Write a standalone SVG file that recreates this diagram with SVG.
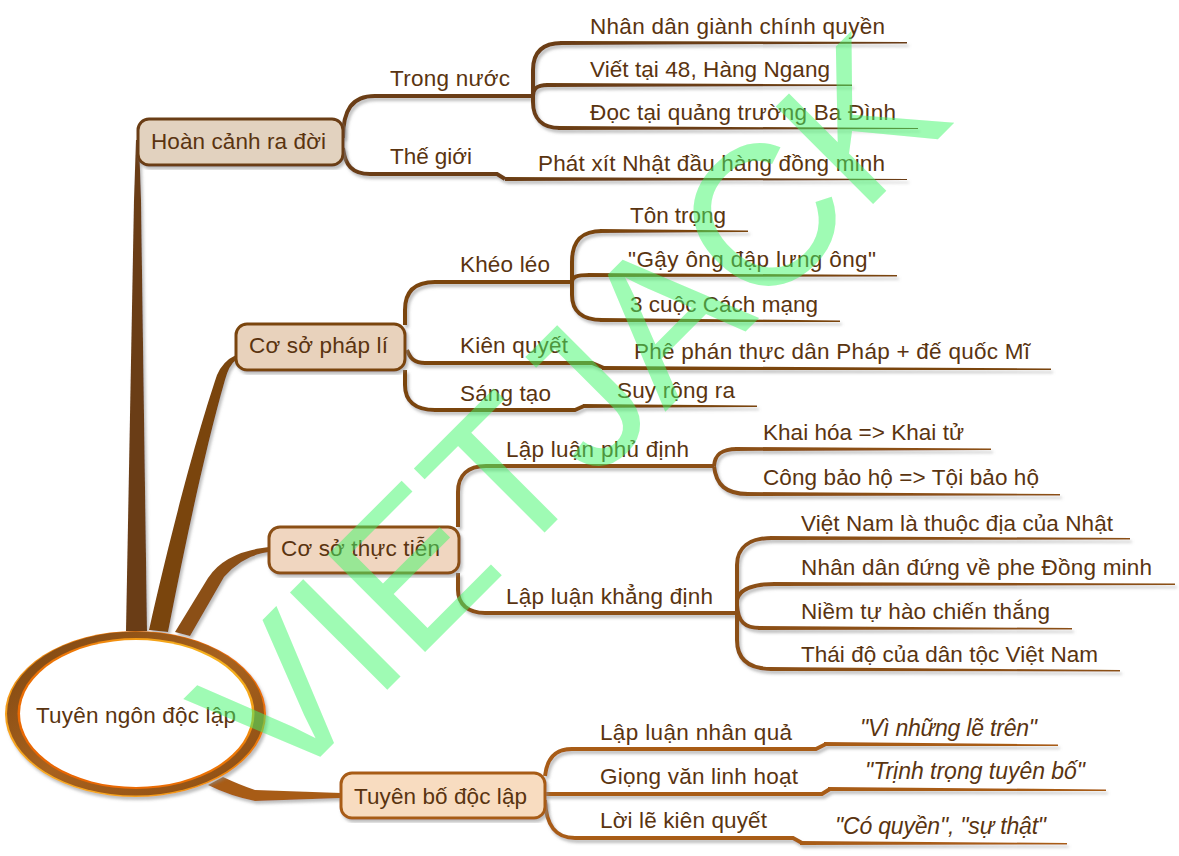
<svg xmlns="http://www.w3.org/2000/svg" width="1179" height="856" viewBox="0 0 1179 856">
<defs>
<style>
text{font-family:"Liberation Sans",Arial,sans-serif;font-size:22.5px;fill:#5a3410}
text.q{font-style:italic;font-size:23px}
.wm{font-size:200px;fill:#40f86a;fill-opacity:.5}
.c1{fill:none;stroke:#6b3e12;stroke-width:4}
.c2{fill:none;stroke:#7a4511;stroke-width:4}
.c3{fill:none;stroke:#8b4f15;stroke-width:4}
.c4{fill:none;stroke:#a85c17;stroke-width:4}
.t1{fill:#6b3e12}.t2{fill:#7a4511}.t3{fill:#8b4f15}.t4{fill:#a85c17}
.box{stroke-width:3;filter:url(#sh)}
</style>
<filter id="sh" x="-10%" y="-10%" width="120%" height="120%"><feDropShadow dx="2" dy="3" stdDeviation="1.5" flood-color="#888" flood-opacity=".55"/></filter>
<linearGradient id="ring" x1="0" y1="0" x2="1" y2="1"><stop offset="0" stop-color="#7a4410"/><stop offset=".5" stop-color="#a8621e"/><stop offset="1" stop-color="#8a4c12"/></linearGradient>
<linearGradient id="gold" x1="1" y1="0" x2="0" y2="1"><stop offset="0" stop-color="#e85f00"/><stop offset=".5" stop-color="#f08a10"/><stop offset="1" stop-color="#fbb82a"/></linearGradient>
<linearGradient id="inner" x1="0" y1="1" x2="1" y2="0"><stop offset="0" stop-color="#e85f00"/><stop offset=".6" stop-color="#ee7a08"/><stop offset="1" stop-color="#fbd22a"/></linearGradient>
</defs>
<g id="connectors" filter="url(#sh)">
<path class="t1" d="M126,631 L134,200 L136,140 L139,140 L141,200 L147,631 Z"/>
<path class="t2" d="M149,630 C168,545 195,440 217,375 Q223,361 236,355 L236,360 Q229,365 225,380 C205,450 185,545 168,632 Z"/>
<path class="t3" d="M175,632 L208,578 Q225,552 269,547 V552 Q243,555 224,577 L190,636 Z"/>
<path class="t4" d="M223,777 Q240,785 255,790 L341,793 L341,798 L255,801 Q230,796 208,785 Z"/>
<path class="c1" d="M343,138 C343,110 352,96 375,96 H535 M343,148 C345,165 352,174 370,174 H497 L505,179"/>
<path class="c1" d="M533,96 V70 C533,52 543,43 562,43 M533,96 C533,90 535,85 548,85 M533,96 V102 C533,118 542,128 560,128"/>
<path class="t1" d="M505,177 L907,179 V180 L505,181 Z M560,41 L907,42 V43.500 L560,45 Z M546,83 L852,84.500 V86 L546,87 Z M558,126 L918,128 V129 L558,130 Z"/>
<path class="c2" d="M405,325 V310 C405,291 415,282 435,282 H572 M407,350 C410,358 414,363 425,363 H592 L604,368 M405,370 V385 C405,401 415,410 435,410 H575 L584,406"/>
<path class="c2" d="M572,282 V262 C572,240 582,231 602,231 M572,282 C572,277 576,275 590,275 M572,282 V295 C572,311 582,320 602,320"/>
<path class="t2" d="M600,229 L748,230.500 V232 L600,233 Z M588,273 L897,275 V276.500 L588,277 Z M600,318 L840,320.500 V322 L600,322 Z M602,366 L1051,368.500 V370 L602,370 Z M583,404 L757,405.500 V407 L583,408 Z"/>
<path class="c3" d="M458,527 V492 C458,475 468,466 486,466 H714 M458,573 V590 C458,604 468,613 485,613 H737"/>
<path class="c3" d="M714,466 C715,454 722,449 737,449 M714,466 C716,485 726,494 748,494 M737,613 V565 C737,547 750,538 772,538 M737,613 V600 C739,590 752,584 775,584 M737,605 C738,622 745,628 760,628 M737,613 V640 C737,660 750,669 772,669"/>
<path class="t3" d="M735,447 L991,448.500 V450 L735,451 Z M746,492 L1060,494 V495.500 L746,496 Z M770,536 L1130,538 V539.500 L770,540 Z M773,582 L1175,583.500 V585 L773,586 Z M758,626 L1072,628 V629.500 L758,630 Z M770,667 L1120,670 V671.500 L770,671 Z"/>
<path class="c4" d="M545,776 C547,758 555,749 572,749 H816 L826,744 M545,794 H822 L830,789 M545,800 C546,825 555,838 575,838 H793 L802,843"/>
<path class="t4" d="M824,742 L1058,744.500 V746 L824,746 Z M828,787 L1106,789.500 V791 L828,791 Z M800,841 L1067,843 V844.500 L800,845 Z"/>
</g>
<g id="n-root">
<ellipse cx="135.500" cy="714" rx="130.500" ry="83" fill="url(#gold)" filter="url(#sh)"/>
<ellipse cx="135.500" cy="713.500" rx="128.500" ry="82" fill="url(#ring)"/>
<ellipse cx="136" cy="713.500" rx="118.500" ry="75.500" fill="url(#inner)"/>
<ellipse cx="136" cy="713.500" rx="116" ry="73.500" fill="#fff"/>
<text x="36" y="723" textLength="200">Tuyên ngôn độc lập</text>
</g>
<g id="n-hoancanh"><rect class="box" x="138" y="119" width="205" height="46" rx="11" fill="#e2d2bf" stroke="#6b3e12"/><text x="151" y="149" textLength="175">Hoàn cảnh ra đời</text></g>
<g id="n-phapli"><rect class="box" x="236" y="324" width="169" height="46" rx="11" fill="#e8d2bc" stroke="#7a4511"/><text x="249" y="353" textLength="139">Cơ sở pháp lí</text></g>
<g id="n-thuctien"><rect class="box" x="269" y="527" width="190" height="46" rx="11" fill="#f0d6c0" stroke="#8b4f15"/><text x="281" y="556" textLength="159">Cơ sở thực tiễn</text></g>
<g id="n-tuyenbo"><rect class="box" x="341" y="773" width="204" height="45" rx="11" fill="#f8dcc0" stroke="#a85c17"/><text x="354" y="804" textLength="173">Tuyên bố độc lập</text></g>
<g id="n-trongnuoc"><text x="390" y="86" textLength="120">Trong nước</text></g>
<g id="n-thegioi"><text x="390" y="164" textLength="82">Thế giới</text></g>
<g id="n-nhandan"><text x="590" y="34" textLength="295">Nhân dân giành chính quyền</text></g>
<g id="n-viet"><text x="590" y="77" textLength="240">Viết tại 48, Hàng Ngang</text></g>
<g id="n-doc"><text x="590" y="120" textLength="306">Đọc tại quảng trường Ba Đình</text></g>
<g id="n-phatxit"><text x="538" y="171" textLength="347">Phát xít Nhật đầu hàng đồng minh</text></g>
<g id="n-kheoleo"><text x="460" y="272" textLength="90">Khéo léo</text></g>
<g id="n-kienquyet"><text x="460" y="353" textLength="108">Kiên quyết</text></g>
<g id="n-sangtao"><text x="460" y="401" textLength="91">Sáng tạo</text></g>
<g id="n-tontrong"><text x="630" y="223" textLength="96">Tôn trọng</text></g>
<g id="n-gay"><text x="628" y="267" textLength="248">"Gậy ông đập lưng ông"</text></g>
<g id="n-3cuoc"><text x="630" y="312" textLength="188">3 cuộc Cách mạng</text></g>
<g id="n-phephan"><text x="634" y="359" textLength="396">Phê phán thực dân Pháp + đế quốc Mĩ</text></g>
<g id="n-suyrong"><text x="617" y="398" textLength="118">Suy rộng ra</text></g>
<g id="n-phudinh"><text x="506" y="457" textLength="183">Lập luận phủ định</text></g>
<g id="n-khaihoa"><text x="763" y="440" textLength="201">Khai hóa =&gt; Khai tử</text></g>
<g id="n-congbao"><text x="763" y="485" textLength="276">Công bảo hộ =&gt; Tội bảo hộ</text></g>
<g id="n-khangdinh"><text x="506" y="604" textLength="207">Lập luận khẳng định</text></g>
<g id="n-vn"><text x="801" y="531" textLength="312">Việt Nam là thuộc địa của Nhật</text></g>
<g id="n-phe"><text x="801" y="575" textLength="351">Nhân dân đứng về phe Đồng minh</text></g>
<g id="n-niem"><text x="801" y="619" textLength="249">Niềm tự hào chiến thắng</text></g>
<g id="n-thaido"><text x="801" y="662" textLength="297">Thái độ của dân tộc Việt Nam</text></g>
<g id="n-nhanqua"><text x="600" y="740" textLength="192">Lập luận nhân quả</text></g>
<g id="n-giong"><text x="600" y="784" textLength="198">Giọng văn linh hoạt</text></g>
<g id="n-loi"><text x="600" y="828" textLength="167">Lời lẽ kiên quyết</text></g>
<g id="n-vi"><text class="q" x="860" y="736" textLength="177">"Vì những lẽ trên"</text></g>
<g id="n-trinh"><text class="q" x="865" y="779" textLength="220">"Trịnh trọng tuyên bố"</text></g>
<g id="n-co"><text class="q" x="835" y="834" textLength="211">"Có quyền", "sự thật"</text></g>
<text class="wm" transform="translate(280,797) rotate(-45)">VIETJACK</text>
</svg>
